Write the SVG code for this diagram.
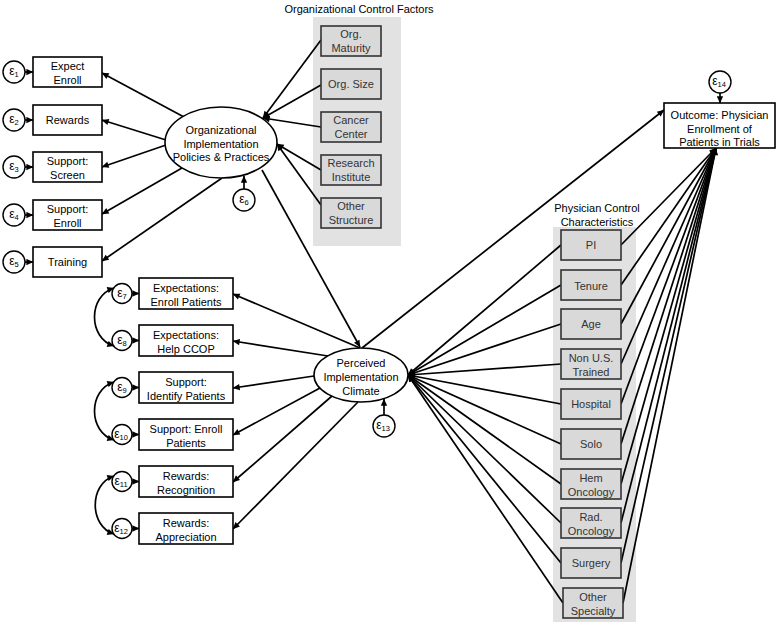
<svg xmlns="http://www.w3.org/2000/svg" width="778" height="629" viewBox="0 0 778 629">
<defs>
<marker id="ah" viewBox="0 0 10 10" refX="9.5" refY="5" markerWidth="8" markerHeight="7" markerUnits="userSpaceOnUse" orient="auto-start-reverse"><path d="M0,0.5 L10,5 L0,9.5 z" fill="#000"/></marker>
</defs>
<style>
text{font-family:"Liberation Sans",Arial,sans-serif;font-size:11px;fill:#000;text-anchor:middle}
.box{fill:#fff;stroke:#000;stroke-width:1.6}
.gbox{fill:#d9d9d9;stroke:#333;stroke-width:1.6}
.panel{fill:#e2e2e2}
.gt{fill:#333}
.err{fill:#fff;stroke:#000;stroke-width:1.4}
.lat{fill:#fff;stroke:#000;stroke-width:1.6}
.c line,.c path{stroke:#000;stroke-width:1.7;fill:none;marker-end:url(#ah)}
.c path.dbl{marker-start:url(#ah)}
.eps{font-size:12px}
.sub{font-size:7.5px}
</style>
<rect width="778" height="629" fill="#fff"/>

<!-- panels -->
<g id="orgPanel">
<rect class="panel" x="313" y="17" width="88" height="229"/>
<text x="359" y="13">Organizational Control Factors</text>
</g>
<g id="physPanel">
<rect class="panel" x="553" y="227" width="83" height="395"/>
<text x="597" y="212">Physician Control</text>
<text x="597" y="226">Characteristics</text>
</g>

<!-- connectors -->
<g id="connectors" class="c">
<line x1="184" y1="117" x2="102" y2="73"/>
<line x1="166" y1="140" x2="102" y2="120"/>
<line x1="166" y1="145" x2="102" y2="167"/>
<line x1="182" y1="168" x2="102" y2="214"/>
<line x1="222" y1="178" x2="102" y2="261"/>
<line x1="25" y1="72" x2="33" y2="72"/>
<line x1="25" y1="120" x2="33" y2="120"/>
<line x1="25" y1="167" x2="33" y2="167"/>
<line x1="25" y1="215" x2="33" y2="215"/>
<line x1="25" y1="262" x2="33" y2="262"/>
<line x1="321" y1="40" x2="263" y2="118"/>
<line x1="321" y1="85" x2="263" y2="118"/>
<line x1="321" y1="127" x2="263" y2="118"/>
<line x1="321" y1="170" x2="277" y2="144"/>
<line x1="321" y1="205" x2="277" y2="144"/>
<line x1="244" y1="189" x2="244" y2="176"/>
<line x1="262" y1="170" x2="360" y2="347"/>
<line x1="362" y1="348" x2="664" y2="110"/>
<line x1="360" y1="348" x2="233" y2="294"/>
<line x1="328" y1="356" x2="233" y2="341"/>
<line x1="314" y1="376" x2="233" y2="388"/>
<line x1="320" y1="388" x2="233" y2="435"/>
<line x1="332" y1="396" x2="233" y2="482"/>
<line x1="358" y1="402" x2="233" y2="529"/>
<line x1="132" y1="293.5" x2="139" y2="293.5"/>
<line x1="132" y1="340.5" x2="139" y2="340.5"/>
<line x1="132" y1="387.5" x2="139" y2="387.5"/>
<line x1="132" y1="434.5" x2="139" y2="434.5"/>
<line x1="132" y1="481.5" x2="139" y2="481.5"/>
<line x1="132" y1="528.5" x2="139" y2="528.5"/>
<path class="dbl" d="M114,288 C88,296 88,338 114,346"/>
<path class="dbl" d="M114,382 C88,390 88,432 114,440"/>
<path class="dbl" d="M114,476 C89,484 89,526 114,534"/>
<line x1="384" y1="415" x2="384" y2="399"/>
<line x1="720" y1="93" x2="720" y2="103"/>
<line x1="561" y1="245" x2="408" y2="375"/>
<line x1="561" y1="285" x2="408" y2="375"/>
<line x1="561" y1="324" x2="408" y2="375"/>
<line x1="561" y1="364" x2="408" y2="375"/>
<line x1="561" y1="404" x2="408" y2="375"/>
<line x1="561" y1="444" x2="408" y2="375"/>
<line x1="561" y1="484" x2="408" y2="375"/>
<line x1="561" y1="523" x2="408" y2="375"/>
<line x1="561" y1="563" x2="408" y2="375"/>
<line x1="563" y1="603" x2="408" y2="375"/>
<line x1="621" y1="245" x2="716" y2="148"/>
<line x1="621" y1="285" x2="716" y2="148"/>
<line x1="621" y1="324" x2="716" y2="148"/>
<line x1="621" y1="364" x2="716" y2="148"/>
<line x1="621" y1="404" x2="716" y2="148"/>
<line x1="621" y1="444" x2="716" y2="148"/>
<line x1="621" y1="484" x2="716" y2="148"/>
<line x1="621" y1="523" x2="716" y2="148"/>
<line x1="621" y1="563" x2="716" y2="148"/>
<line x1="623" y1="603" x2="716" y2="148"/>
</g>

<!-- left error terms -->
<g id="e1"><circle class="err" cx="14" cy="72" r="11"/><text class="eps" x="14" y="75">ε<tspan class="sub" dy="2">1</tspan></text></g>
<g id="e2"><circle class="err" cx="14" cy="120" r="11"/><text class="eps" x="14" y="123">ε<tspan class="sub" dy="2">2</tspan></text></g>
<g id="e3"><circle class="err" cx="14" cy="167" r="11"/><text class="eps" x="14" y="170">ε<tspan class="sub" dy="2">3</tspan></text></g>
<g id="e4"><circle class="err" cx="14" cy="215" r="11"/><text class="eps" x="14" y="218">ε<tspan class="sub" dy="2">4</tspan></text></g>
<g id="e5"><circle class="err" cx="14" cy="262" r="11"/><text class="eps" x="14" y="265">ε<tspan class="sub" dy="2">5</tspan></text></g>

<!-- left indicator boxes -->
<g id="expectEnroll"><rect class="box" x="33" y="57" width="69" height="30"/><text x="67.5" y="70">Expect</text><text x="67.5" y="84">Enroll</text></g>
<g id="rewards"><rect class="box" x="33" y="105" width="69" height="30"/><text x="67.5" y="124">Rewards</text></g>
<g id="supportScreen"><rect class="box" x="33" y="152" width="69" height="30"/><text x="67.5" y="165">Support:</text><text x="67.5" y="179">Screen</text></g>
<g id="supportEnroll"><rect class="box" x="33" y="200" width="69" height="30"/><text x="67.5" y="213">Support:</text><text x="67.5" y="227">Enroll</text></g>
<g id="training"><rect class="box" x="33" y="247" width="69" height="30"/><text x="67.5" y="266">Training</text></g>

<!-- org latent -->
<g id="orgLatent"><ellipse class="lat" cx="221" cy="142.5" rx="56" ry="35.5"/>
<text x="221" y="134">Organizational</text><text x="221" y="147.5">Implementation</text><text x="221" y="161">Policies &amp; Practices</text></g>
<g id="e6"><circle class="err" cx="244" cy="200" r="11"/><text class="eps" x="244" y="203">ε<tspan class="sub" dy="2">6</tspan></text></g>

<!-- org controls -->
<g id="orgMaturity"><rect class="gbox" x="321" y="26" width="60" height="30"/><text class="gt" x="351" y="38">Org.</text><text class="gt" x="351" y="52">Maturity</text></g>
<g id="orgSize"><rect class="gbox" x="321" y="69" width="60" height="30"/><text class="gt" x="351" y="88">Org. Size</text></g>
<g id="cancerCenter"><rect class="gbox" x="321" y="112" width="60" height="30"/><text class="gt" x="351" y="124">Cancer</text><text class="gt" x="351" y="138">Center</text></g>
<g id="researchInstitute"><rect class="gbox" x="321" y="155" width="60" height="30"/><text class="gt" x="351" y="167">Research</text><text class="gt" x="351" y="181">Institute</text></g>
<g id="otherStructure"><rect class="gbox" x="321" y="198" width="60" height="30"/><text class="gt" x="351" y="210">Other</text><text class="gt" x="351" y="224">Structure</text></g>

<!-- middle error terms -->
<g id="e7"><circle class="err" cx="122" cy="293.5" r="10"/><text class="eps" x="122" y="296.5">ε<tspan class="sub" dy="2">7</tspan></text></g>
<g id="e8"><circle class="err" cx="122" cy="340.5" r="10"/><text class="eps" x="122" y="343.5">ε<tspan class="sub" dy="2">8</tspan></text></g>
<g id="e9"><circle class="err" cx="122" cy="387.5" r="10"/><text class="eps" x="122" y="390.5">ε<tspan class="sub" dy="2">9</tspan></text></g>
<g id="e10"><circle class="err" cx="122" cy="434.5" r="10"/><text class="eps" x="121" y="437.5">ε<tspan class="sub" dy="2">10</tspan></text></g>
<g id="e11"><circle class="err" cx="122" cy="481.5" r="10"/><text class="eps" x="121" y="484.5">ε<tspan class="sub" dy="2">11</tspan></text></g>
<g id="e12"><circle class="err" cx="122" cy="528.5" r="10"/><text class="eps" x="121" y="531.5">ε<tspan class="sub" dy="2">12</tspan></text></g>

<!-- middle indicator boxes -->
<g id="expEnrollPatients"><rect class="box" x="139" y="278" width="94" height="31"/><text x="186" y="291.5">Expectations:</text><text x="186" y="305.5">Enroll Patients</text></g>
<g id="expHelpCCOP"><rect class="box" x="139" y="325" width="94" height="31"/><text x="186" y="338.5">Expectations:</text><text x="186" y="352.5">Help CCOP</text></g>
<g id="supIdentify"><rect class="box" x="139" y="372" width="94" height="31"/><text x="186" y="385.5">Support:</text><text x="186" y="399.5">Identify Patients</text></g>
<g id="supEnrollPatients"><rect class="box" x="139" y="419" width="94" height="31"/><text x="186" y="432.5">Support: Enroll</text><text x="186" y="446.5">Patients</text></g>
<g id="rewRecognition"><rect class="box" x="139" y="466" width="94" height="31"/><text x="186" y="479.5">Rewards:</text><text x="186" y="493.5">Recognition</text></g>
<g id="rewAppreciation"><rect class="box" x="139" y="513" width="94" height="31"/><text x="186" y="526.5">Rewards:</text><text x="186" y="540.5">Appreciation</text></g>

<!-- climate latent -->
<g id="climate"><ellipse class="lat" cx="361" cy="375" rx="47" ry="27"/>
<text x="361" y="366.5">Perceived</text><text x="361" y="380.5">Implementation</text><text x="361" y="394.5">Climate</text></g>
<g id="e13"><circle class="err" cx="384" cy="426" r="11"/><text class="eps" x="383" y="429">ε<tspan class="sub" dy="2">13</tspan></text></g>

<!-- outcome -->
<g id="outcome"><rect class="box" x="664" y="103" width="111" height="45"/>
<text x="719.5" y="119">Outcome: Physician</text><text x="719.5" y="132.5">Enrollment of</text><text x="719.5" y="146">Patients in Trials</text></g>
<g id="e14"><circle class="err" cx="720" cy="82" r="11"/><text class="eps" x="719" y="85">ε<tspan class="sub" dy="2">14</tspan></text></g>

<!-- physician controls -->
<g id="pi"><rect class="gbox" x="561" y="230" width="60" height="30"/><text class="gt" x="591" y="249">PI</text></g>
<g id="tenure"><rect class="gbox" x="561" y="270" width="60" height="30"/><text class="gt" x="591" y="290">Tenure</text></g>
<g id="age"><rect class="gbox" x="561" y="309" width="60" height="30"/><text class="gt" x="591" y="328">Age</text></g>
<g id="nonUS"><rect class="gbox" x="561" y="349" width="60" height="30"/><text class="gt" x="591" y="361.5">Non U.S.</text><text class="gt" x="591" y="376">Trained</text></g>
<g id="hospital"><rect class="gbox" x="561" y="389" width="60" height="30"/><text class="gt" x="591" y="408">Hospital</text></g>
<g id="solo"><rect class="gbox" x="561" y="429" width="60" height="30"/><text class="gt" x="591" y="448">Solo</text></g>
<g id="hemOnc"><rect class="gbox" x="561" y="469" width="60" height="30"/><text class="gt" x="591" y="481.5">Hem</text><text class="gt" x="591" y="496">Oncology</text></g>
<g id="radOnc"><rect class="gbox" x="561" y="508" width="60" height="30"/><text class="gt" x="591" y="520.5">Rad.</text><text class="gt" x="591" y="535">Oncology</text></g>
<g id="surgery"><rect class="gbox" x="561" y="548" width="60" height="30"/><text class="gt" x="591" y="567">Surgery</text></g>
<g id="otherSpecialty"><rect class="gbox" x="563" y="588" width="60" height="30"/><text class="gt" x="593" y="600.5">Other</text><text class="gt" x="593" y="615">Specialty</text></g>
</svg>
